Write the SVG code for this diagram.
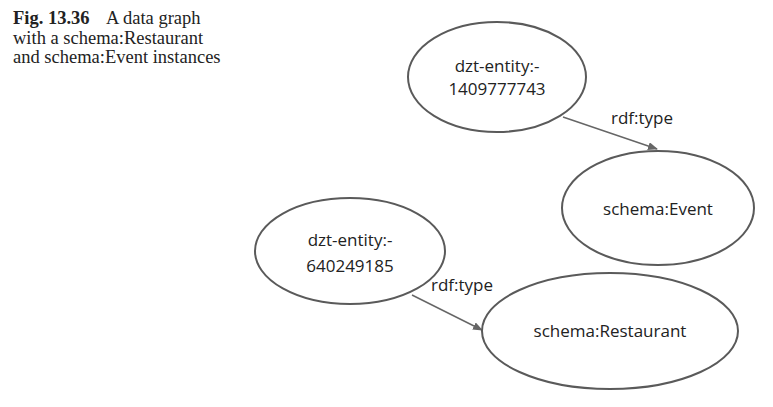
<svg xmlns="http://www.w3.org/2000/svg" width="773" height="407" viewBox="0 0 773 407">
<style>
.cap{font-family:"Liberation Serif","Times New Roman",serif;font-size:18.5px;fill:#222}
.node ellipse{fill:#fff;stroke:#5a5a5a;stroke-width:2}
.node text{font-family:"Open Sans","Liberation Sans",sans-serif;font-size:17px;fill:#222;text-anchor:middle}
.edge line{stroke:#666;stroke-width:1.5}
.lbl{font-family:"Open Sans","Liberation Sans",sans-serif;font-size:17px;fill:#222}
</style>
<defs>
<marker id="arr" markerWidth="10" markerHeight="8" refX="9" refY="4" orient="auto" markerUnits="userSpaceOnUse">
<path d="M0,0 L10,4 L0,8 z" fill="#666"/>
</marker>
</defs>
<rect width="773" height="407" fill="#fff"/>
<g id="caption">
<text class="cap" x="13" y="24" font-weight="bold">Fig. 13.36</text>
<text class="cap" x="106" y="24">A data graph</text>
<text class="cap" x="13" y="43.5">with a schema:Restaurant</text>
<text class="cap" x="13" y="63">and schema:Event instances</text>
</g>
<g id="connectors" class="edge">
<line x1="563" y1="117" x2="657" y2="149" marker-end="url(#arr)"/>
<line x1="412" y1="295" x2="482" y2="330" marker-end="url(#arr)"/>
<text class="lbl" x="611" y="124">rdf:type</text>
<text class="lbl" x="431" y="291">rdf:type</text>
</g>
<g id="n1" class="node">
<ellipse cx="497" cy="77" rx="89" ry="55"/>
<text x="497" y="72">dzt-entity:-</text>
<text x="497" y="95">1409777743</text>
</g>
<g id="n2" class="node">
<ellipse cx="658" cy="208" rx="96" ry="57"/>
<text x="658" y="215">schema:Event</text>
</g>
<g id="n3" class="node">
<ellipse cx="350" cy="251" rx="95" ry="53"/>
<text x="350" y="246">dzt-entity:-</text>
<text x="350" y="272">640249185</text>
</g>
<g id="n4" class="node">
<ellipse cx="610" cy="331" rx="128" ry="58"/>
<text x="610" y="337">schema:Restaurant</text>
</g>
</svg>
